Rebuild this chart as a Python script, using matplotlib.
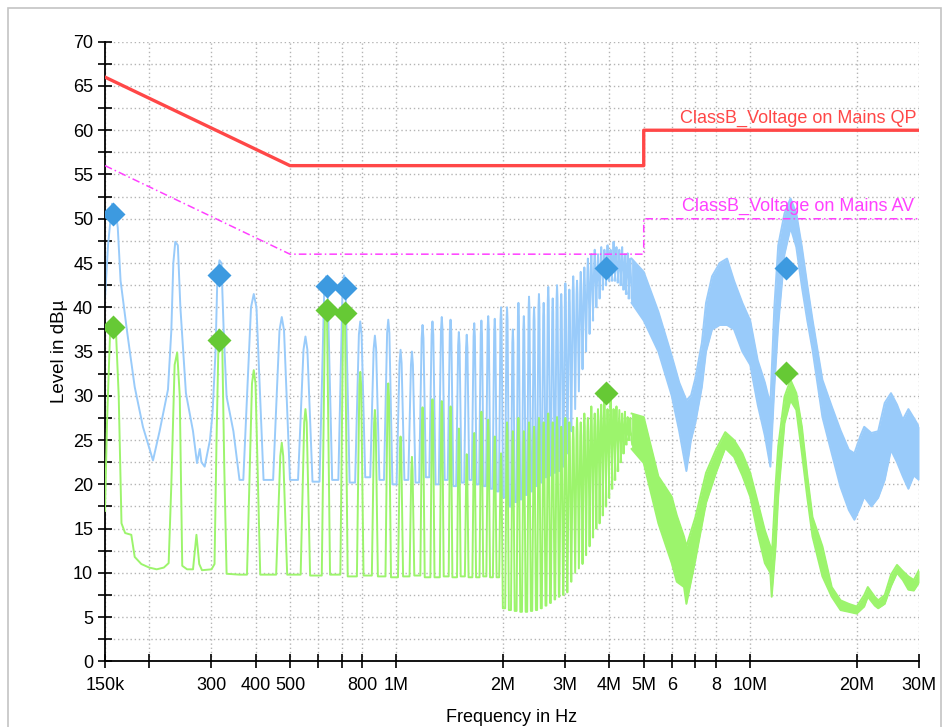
import numpy as np
import matplotlib
matplotlib.use('Agg')
import matplotlib.pyplot as plt
from matplotlib.ticker import FixedLocator, MultipleLocator
from matplotlib.patches import Rectangle

plt.rcParams['font.family'] = ['Liberation Sans', 'DejaVu Sans']

# limit lines (EN 55022 class B, conducted)
limit_freq = [150e3, 500e3, 5e6, 5e6, 30e6]
qp_limit = [66, 56, 56, 60, 60]
av_limit = [56, 46, 46, 50, 50]

# start of the sweep, read point by point (kHz, dBuV)
blue_head_khz = [150, 153, 157, 160, 163, 166, 173, 182, 192, 205,
                 214, 226, 231, 234, 237, 241, 245, 254, 266, 273,
                 278, 281, 287, 297, 302, 308, 312, 316, 320, 325,
                 331, 346, 360]
blue_head_db = [41, 47, 51.7, 51.5, 49, 43, 37.4, 31, 26.5, 22.7,
                26, 30.7, 37.4, 45, 47.4, 47, 40, 30.3, 26, 22.4,
                24, 22.5, 22, 25, 28, 35, 44, 45.3, 45, 37,
                29.9, 26, 20.5]
green_head_khz = [150, 152, 155, 158, 161, 164, 167, 171, 178, 182,
                  190, 200, 210, 220, 227, 231, 236, 240, 244, 248,
                  256, 266, 272, 277, 282, 300, 306, 310, 314, 318,
                  322, 326, 331, 360]
green_head_db = [17, 27, 37, 38.5, 37.5, 30, 15.6, 14.5, 14.3, 11.8,
                 11, 10.6, 10.4, 10.6, 11.1, 20, 33.5, 34.9, 30, 10.8,
                 10.4, 10.4, 14.3, 11, 10.3, 10.4, 11, 25, 36, 37,
                 35, 22, 9.9, 9.8]

# switching harmonics 5..58 of the 79 kHz converter: peak and floor after it
switch_khz = 79
orders = list(range(5, 59))
blue_peaks = [41.5, 38.9, 36.7, 43.5, 43.6, 38.4, 36.8, 38.6, 35.2, 35.0,
              38.0, 38.4, 38.9, 38.6, 37.2, 36.9, 38.2, 38.5, 39.0, 38.7,
              40.0, 40.0, 37.5, 40.5, 39.0, 41.2, 40.0, 41.5, 40.5, 42.3,
              41.0, 42.5, 41.5, 42.7, 42.0, 43.5, 43.0, 44.0, 44.5, 45.5,
              46.0, 46.5, 46.0, 46.8, 46.5, 47.0, 46.5, 47.4, 46.8, 46.5,
              46.8, 46.0, 46.1, 45.5]
blue_floors = [20.5, 20.5, 20.3, 20.5, 20.2, 20.8, 20.5, 20.0, 20.5, 20.2,
               20.8, 20.0, 20.5, 19.8, 20.2, 20.5, 20.0, 19.8, 19.5, 19.2,
               18.5, 17.5, 18.0, 18.3, 18.8, 19.2, 19.8, 20.2, 20.8, 21.0,
               21.3, 21.5, 22.0, 23.5, 26.0, 28.5, 30.5, 33.0, 35.0, 37.0,
               38.5, 40.0, 41.0, 42.0, 42.5, 43.0, 43.0, 43.0, 42.8, 42.5,
               42.0, 41.5, 41.0, 40.5]
green_peaks = [32.9, 24.7, 28.5, 40.0, 39.8, 32.7, 28.4, 31.4, 25.4, 23.1,
               28.7, 29.6, 29.4, 28.8, 26.3, 23.4, 25.8, 28.2, 27.3, 25.4,
               23.5, 27.0, 26.0, 27.5, 26.0, 27.0, 26.5, 27.5, 27.0, 28.0,
               27.0, 27.6, 26.5, 27.5, 27.0, 26.5, 27.5, 27.0, 28.0, 27.5,
               28.8, 28.0, 28.5, 29.0, 29.3, 28.5, 29.5, 28.5, 28.8, 28.4,
               28.0, 28.2, 27.6, 27.5]
green_floors = [9.8, 9.8, 9.7, 9.8, 9.6, 9.7, 9.6, 9.5, 9.6, 9.7,
                9.5, 9.5, 9.6, 9.5, 9.6, 9.5, 9.5, 9.6, 9.5, 9.5,
                6.0, 5.8, 5.7, 5.6, 5.6, 5.7, 5.8, 6.0, 6.3, 6.6,
                7.0, 7.3, 7.5, 7.8, 9.0, 10.0, 10.5, 11.0, 12.0, 13.0,
                14.0, 15.0, 15.6, 16.5, 17.5, 18.5, 19.5, 20.5, 21.5, 22.5,
                23.5, 24.5, 25.0, 24.5]

# above ~4.6 MHz the harmonics merge into a band (MHz, lower/upper edge)
blue_band_mhz = [4.62, 5.0, 5.5, 6.0, 6.3, 6.6, 6.8, 7.0, 7.3, 7.5,
                 7.8, 8.2, 8.6, 9.0, 9.5, 10.0, 10.5, 11.0, 11.4, 11.7,
                 12.0, 12.5, 13.0, 13.5, 14.0, 14.5, 15.0, 16.0, 17.0, 18.0,
                 19.0, 19.7, 20.5, 21.0, 22.0, 23.0, 24.0, 25.0, 26.0, 27.0,
                 28.0, 29.0, 30.0]
blue_band_low = [40.5, 38.5, 35, 30, 26, 21.5, 25, 27, 31, 35,
                 37.5, 38, 38, 37.5, 35, 33.5, 29, 25.5, 22, 31,
                 38, 46, 49, 46.8, 42.3, 38.5, 35.2, 27.6, 23.5, 19.7,
                 17.1, 16.0, 17.5, 18.6, 17.5, 18.5, 20.5, 23.9, 22.5, 20.9,
                 19.5, 21, 20.5]
blue_band_high = [45.5, 44, 39.5, 34.5, 31.5, 29.5, 30, 32, 36, 40.5,
                  43.5, 45, 45.5, 43, 40.5, 38.5, 34, 31.5, 29, 40,
                  47, 50.6, 52.3, 50.6, 46.8, 42.5, 38.6, 31.8, 28.8, 26.1,
                  23.9, 23.5, 25.5, 26.5, 25.8, 26, 29.2, 30.3, 29, 27.3,
                  28.5, 27.5, 26.5]
green_band_mhz = [4.62, 5.0, 5.5, 6.0, 6.2, 6.5, 6.6, 7.0, 7.5, 8.0,
                  8.5, 9.0, 9.5, 10.0, 10.5, 11.0, 11.4, 11.5, 11.8, 12.0,
                  12.5, 13.0, 13.5, 14.0, 14.5, 15.0, 16.0, 17.0, 18.0, 19.0,
                  20.0, 21.0, 21.5, 22.5, 23.0, 24.0, 25.0, 26.0, 27.0, 28.0,
                  29.0, 30.0]
green_band_low = [24, 22.4, 15.6, 11.1, 9, 8.4, 6.5, 11.5, 17.9, 21.3,
                  24.1, 23.1, 21, 18.6, 14.5, 11.1, 10, 7.3, 13, 18.6,
                  26.9, 29.5, 28.4, 23.5, 18.5, 14.1, 9.6, 7.3, 5.8, 5.6,
                  5.4, 6.2, 7.3, 6.3, 6.0, 6.5, 8.5, 10.0, 9.2, 8.1,
                  8.0, 8.9]
green_band_high = [28, 27.6, 20.9, 18.6, 16.5, 14.1, 13, 16.3, 21.3, 23.9,
                   25.9, 25.0, 23.5, 21.3, 18, 14.8, 13, 11.5, 20, 24.3,
                   29.9, 31.8, 30.3, 26.5, 21, 16.3, 13, 8.4, 6.9, 6.5,
                   6.2, 7.5, 8.4, 7.3, 6.9, 7.5, 9.8, 10.9, 10.2, 9.6,
                   9.2, 10.3]

# final measurement points
marker_khz = [158, 316, 636, 716, 3920, 12600]
qp_marker_db = [50.5, 43.6, 42.4, 42.2, 44.4, 44.4]
av_marker_db = [37.8, 36.3, 39.7, 39.4, 30.3, 32.6]

tick_freq = [150e3, 200e3, 300e3, 400e3, 500e3, 600e3, 700e3, 800e3, 1e6,
             2e6, 3e6, 4e6, 5e6, 6e6, 7e6, 8e6, 10e6, 20e6, 30e6]
tick_text = ['150k', '', '300', '400', '500', '', '', '800', '1M',
             '2M', '3M', '4M', '5M', '6', '', '8', '10M', '20M', '30M']

BLUE = '#99cbfa'
GREEN = '#9cf46c'


def harmonic_trace(head_f, head_db, peaks, floors, min_base, min_top):
    # each harmonic as a spike on the noise floor; spikes widen with frequency
    f = [x * 1e3 for x in head_f]
    lv = list(head_db)
    prev = head_db[-1]
    for n, p, fl in zip(orders, peaks, floors):
        fc = n * switch_khz * 1e3
        hb = max(min_base, 0.012 * fc)
        ht = max(min_top, 0.003 * fc)
        f += [fc - hb, fc - ht, fc, fc + ht, fc + hb]
        lv += [prev, p - 1.5, p, p - 1.5, fl]
        prev = fl
    return f, lv


fig = plt.figure(figsize=(9.48, 7.27), dpi=100)
ax = fig.add_axes([105 / 948, 65.6 / 727, 814 / 948, 619.7 / 727])

bf, bl = harmonic_trace(blue_head_khz, blue_head_db, blue_peaks, blue_floors, 26e3, 7e3)
gf, gl = harmonic_trace(green_head_khz, green_head_db, green_peaks, green_floors, 17e3, 4.5e3)

ax.plot(bf, bl, color=BLUE, lw=1.4, zorder=2)
bb = np.array(blue_band_mhz) * 1e6
ax.fill_between(bb, blue_band_low, blue_band_high, color=BLUE, lw=0, zorder=2)
ax.plot(bb, blue_band_low, color=BLUE, lw=1.4, zorder=2)
ax.plot(bb, blue_band_high, color=BLUE, lw=1.4, zorder=2)

ax.plot(gf, gl, color=GREEN, lw=1.4, zorder=3)
gb = np.array(green_band_mhz) * 1e6
ax.fill_between(gb, green_band_low, green_band_high, color=GREEN, lw=0, zorder=3)
ax.plot(gb, green_band_low, color=GREEN, lw=1.4, zorder=3)
ax.plot(gb, green_band_high, color=GREEN, lw=1.4, zorder=3)

ax.plot(limit_freq, qp_limit, color='#ff4747', lw=2.4, zorder=4)
ax.plot(limit_freq, av_limit, color='#ff40ff', lw=1.1, dashes=(5, 2, 1, 2), zorder=4)
ax.text(6.35e6, 60.4, 'ClassB_Voltage on Mains QP', color='#ff4747', fontsize=13, va='bottom', zorder=6)
ax.text(6.4e6, 50.4, 'ClassB_Voltage on Mains AV', color='#ff40ff', fontsize=13, va='bottom', zorder=6)

mk = np.array(marker_khz) * 1e3
ax.plot(mk, qp_marker_db, 'D', color='#3d9ae0', ms=12, mec='none', zorder=5)
ax.plot(mk, av_marker_db, 'D', color='#66c935', ms=12, mec='none', zorder=5)

ax.set_xscale('log')
ax.set_xlim(150e3, 30e6)
ax.set_ylim(0, 70)
ax.xaxis.set_major_locator(FixedLocator(tick_freq))
ax.xaxis.set_minor_locator(FixedLocator([]))
ax.set_xticklabels(tick_text)
ax.yaxis.set_major_locator(MultipleLocator(5))
ax.yaxis.set_minor_locator(MultipleLocator(2.5))
ax.tick_params(which='both', direction='inout', length=10, width=1.2, labelsize=13)
ax.tick_params(axis='x', pad=6)
ax.grid(True, which='both', color='#b4b4b4', linestyle=(0, (1, 2)), lw=1.0)
ax.set_axisbelow(True)
for s in ['top', 'right']:
    ax.spines[s].set_visible(False)
for s in ['left', 'bottom']:
    ax.spines[s].set_linewidth(1.3)

ax.set_xlabel('Frequency in Hz', fontsize=13)
ax.xaxis.set_label_coords(0.5, -0.077)
ax.set_ylabel('Level in dBµ', fontsize=13.5)
ax.yaxis.set_label_coords(-0.046, 0.5)

fig.add_artist(Rectangle((8 / 948, -0.05), 933 / 948, 1.039, transform=fig.transFigure,
                         fill=False, ec='#c4c4c4', lw=1.2))

fig.savefig('out.png', dpi=100)
